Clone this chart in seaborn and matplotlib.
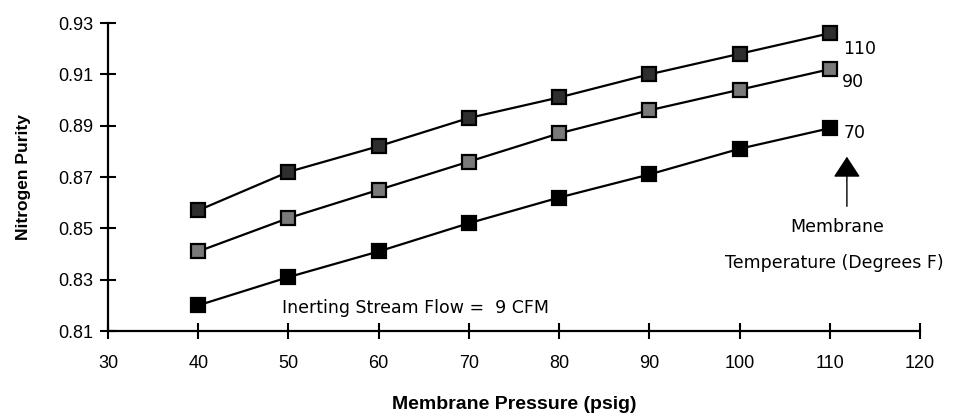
import numpy as np
import pandas as pd
import matplotlib
matplotlib.use("Agg")
import matplotlib.pyplot as plt
import seaborn as sns

# Data
pressure = [40, 50, 60, 70, 80, 90, 100, 110]
purity_110 = [0.857, 0.872, 0.882, 0.893, 0.901, 0.910, 0.918, 0.926]
purity_90 = [0.841, 0.854, 0.865, 0.876, 0.887, 0.896, 0.904, 0.912]
purity_70 = [0.820, 0.831, 0.841, 0.852, 0.862, 0.871, 0.881, 0.889]
temps = ["110", "90", "70"]
x_ticks = [30, 40, 50, 60, 70, 80, 90, 100, 110, 120]
y_ticks = [0.81, 0.83, 0.85, 0.87, 0.89, 0.91, 0.93]

df = pd.DataFrame({
    "pressure": pressure * 3,
    "purity": purity_110 + purity_90 + purity_70,
    "temp": [t for t in temps for _ in pressure],
})

sns.set_style("white")
plt.rcParams["font.family"] = ["Liberation Sans", "DejaVu Sans"]
plt.rcParams["text.color"] = "black"
plt.rcParams["axes.labelcolor"] = "black"

fig = plt.figure(figsize=(9.6, 4.17), dpi=100)
ax = fig.add_axes([0.1125, 0.2062, 0.8458, 0.7386])

face = {"110": "#2e2e2e", "90": "#7a7a7a", "70": "black"}
for t in temps:
    sub = df[df["temp"] == t]
    sns.lineplot(data=sub, x="pressure", y="purity", ax=ax, color="black",
                 linewidth=1.6, marker="s", markersize=10,
                 markerfacecolor=face[t], markeredgecolor="black",
                 markeredgewidth=1.6, legend=False)

ax.set_xlim(30, 120)
ax.set_ylim(0.81, 0.93)
ax.set_xticks(x_ticks)
ax.set_yticks(y_ticks)
ax.set_yticklabels([f"{v:.2f}" for v in y_ticks])
ax.tick_params(bottom=True, left=True, direction="inout", length=11, width=1.5,
               labelsize=13, colors="black")
ax.tick_params(axis="x", pad=12)
ax.tick_params(axis="y", pad=5)
for s in ["top", "right"]:
    ax.spines[s].set_visible(False)
for s in ["left", "bottom"]:
    ax.spines[s].set_color("black")
    ax.spines[s].set_linewidth(1.6)

ax.set_xlabel("Membrane Pressure (psig)", fontsize=14, fontweight="bold", labelpad=17)
ax.set_ylabel("Nitrogen Purity", fontsize=12.5, fontweight="bold", labelpad=20)

note_font = ["DejaVu Sans"]
ax.text(111.5, 0.9200, "110", fontsize=12.5, va="center", family=note_font)
ax.text(111.3, 0.9070, "90", fontsize=12.5, va="center", family=note_font)
ax.text(111.5, 0.8870, "70", fontsize=12.5, va="center", family=note_font)

ax.annotate("", xy=(111.9, 0.8790), xytext=(111.9, 0.8575),
            arrowprops=dict(arrowstyle="-|>,head_length=1.3,head_width=0.85",
                            color="black", lw=1.0))
ax.text(110.8, 0.8505, "Membrane", fontsize=12.5, ha="center", va="center", family=note_font)
ax.text(110.5, 0.8365, "Temperature (Degrees F)", fontsize=12.5, ha="center", va="center",
        family=note_font, clip_on=False)
ax.text(49.3, 0.8190, "Inerting Stream Flow =  9 CFM", fontsize=12.5, ha="left",
        va="center", family=note_font)

fig.savefig("out.png", dpi=100)
